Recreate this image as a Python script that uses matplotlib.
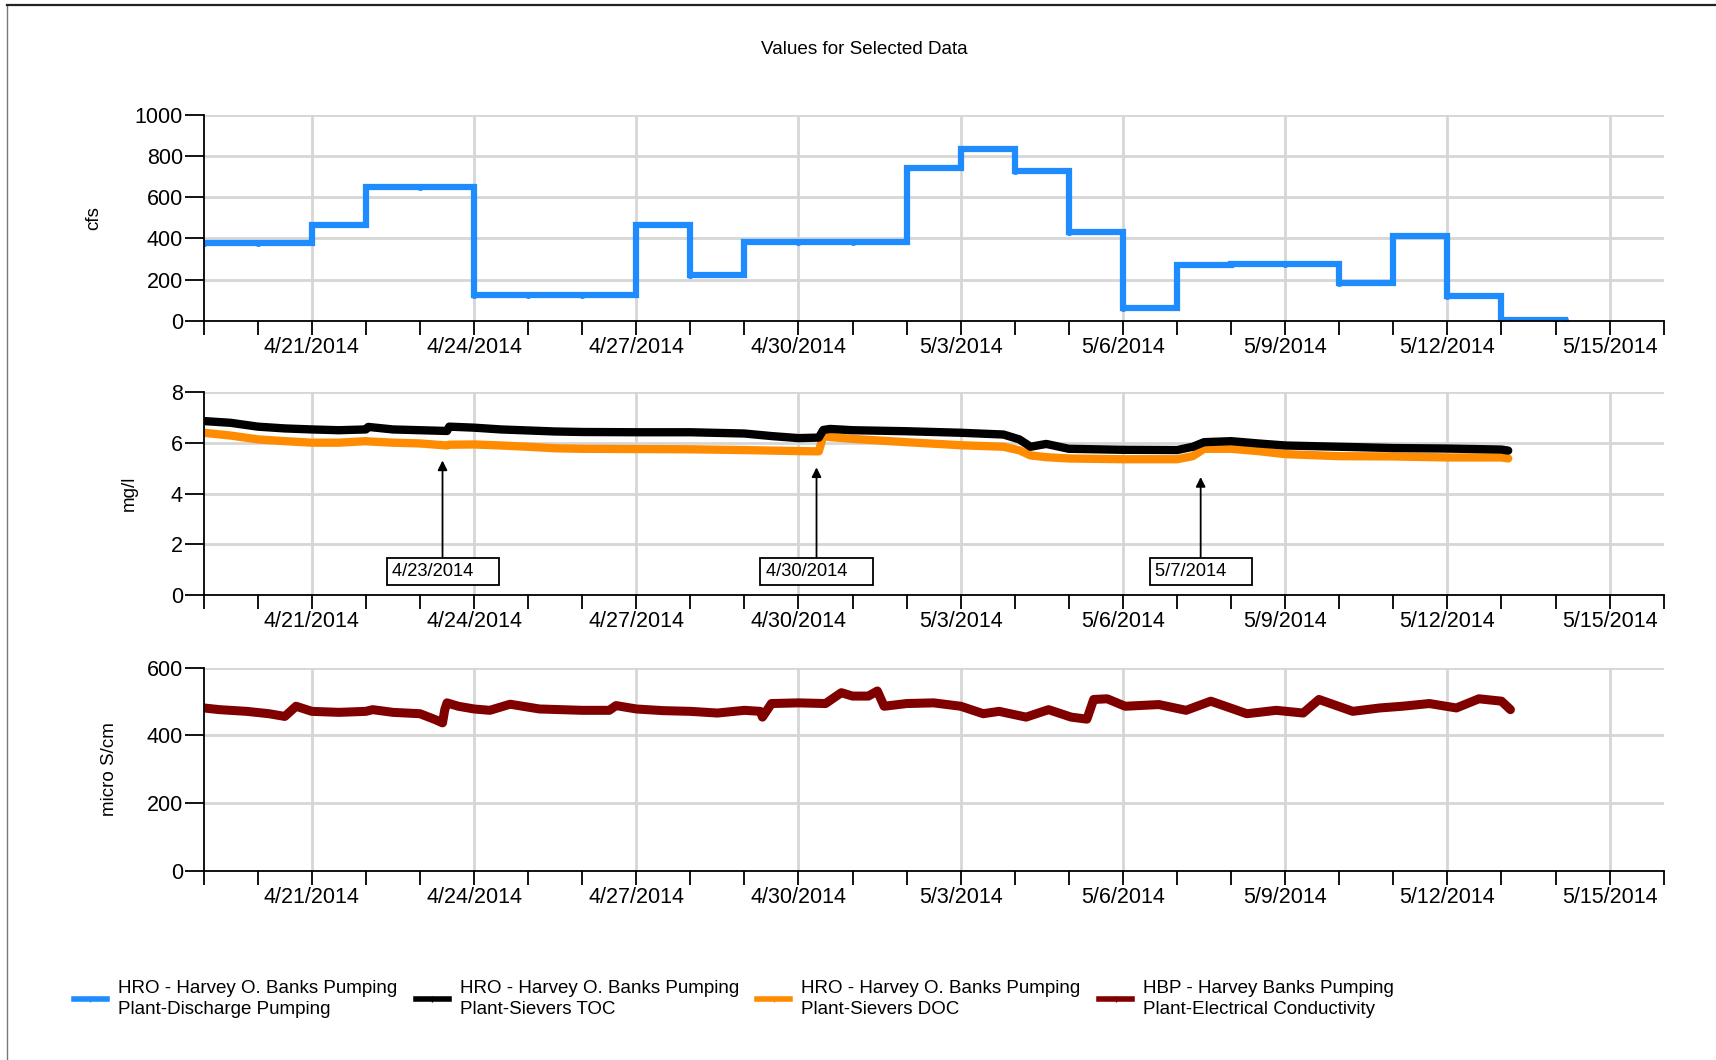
import matplotlib
matplotlib.use('Agg')
import matplotlib.pyplot as plt
import matplotlib.dates as mdates
from matplotlib.lines import Line2D
from matplotlib.ticker import FixedLocator, FuncFormatter
from matplotlib import font_manager
import pandas as pd

# pick a condensed face if there is one
names = set(f.name for f in font_manager.fontManager.ttflist)
NARROW = 'Liberation Sans Narrow' in names
plt.rcParams['font.family'] = ['Liberation Sans Narrow', 'Liberation Sans', 'DejaVu Sans']

title = 'Values for Selected Data'

# daily discharge pumping (cfs), drawn as a step line
flow_dates = ['2014-04-19 00:00', '2014-04-20 00:00', '2014-04-21 00:00', '2014-04-22 00:00',
              '2014-04-23 00:00', '2014-04-24 00:00', '2014-04-25 00:00', '2014-04-26 00:00',
              '2014-04-27 00:00', '2014-04-28 00:00', '2014-04-29 00:00', '2014-04-30 00:00',
              '2014-05-01 00:00', '2014-05-02 00:00', '2014-05-03 00:00', '2014-05-04 00:00',
              '2014-05-05 00:00', '2014-05-06 00:00', '2014-05-07 00:00', '2014-05-08 00:00',
              '2014-05-09 00:00', '2014-05-10 00:00', '2014-05-11 00:00', '2014-05-12 00:00',
              '2014-05-13 00:00', '2014-05-14 00:00', '2014-05-14 04:00']
flow_cfs = [375, 375, 465, 650, 650, 125, 125, 125, 465, 220,
            380, 380, 380, 740, 835, 725, 430, 60, 272, 275,
            275, 183, 412, 120, 3, 3, 3]

# Sievers TOC / DOC (mg/l)
wq_times = ['2014-04-19 00:00', '2014-04-19 12:00', '2014-04-20 00:00', '2014-04-20 12:00',
            '2014-04-21 00:00', '2014-04-21 12:00', '2014-04-22 00:00', '2014-04-22 01:00',
            '2014-04-22 12:00', '2014-04-23 00:00', '2014-04-23 12:00', '2014-04-23 13:00',
            '2014-04-24 00:00', '2014-04-24 12:00', '2014-04-25 00:00', '2014-04-25 12:00',
            '2014-04-26 00:00', '2014-04-27 00:00', '2014-04-28 00:00', '2014-04-29 00:00',
            '2014-04-29 12:00', '2014-04-30 00:00', '2014-04-30 09:00', '2014-04-30 11:00',
            '2014-04-30 14:00', '2014-05-01 00:00', '2014-05-02 00:00', '2014-05-03 00:00',
            '2014-05-03 19:00', '2014-05-04 02:00', '2014-05-04 07:00', '2014-05-04 12:00',
            '2014-05-04 14:00', '2014-05-05 00:00', '2014-05-06 00:00', '2014-05-07 00:00',
            '2014-05-07 07:00', '2014-05-07 12:00', '2014-05-08 00:00', '2014-05-08 12:00',
            '2014-05-09 00:00', '2014-05-10 00:00', '2014-05-11 00:00', '2014-05-12 00:00',
            '2014-05-13 00:00', '2014-05-13 03:00']
toc = [6.85, 6.78, 6.63, 6.56, 6.52, 6.49, 6.52, 6.62, 6.52, 6.49,
       6.46, 6.63, 6.59, 6.52, 6.48, 6.44, 6.42, 6.41, 6.41, 6.36,
       6.26, 6.18, 6.20, 6.50, 6.54, 6.49, 6.45, 6.39, 6.32, 6.13,
       5.84, 5.92, 5.95, 5.76, 5.72, 5.71, 5.84, 6.02, 6.06, 5.97,
       5.89, 5.84, 5.79, 5.77, 5.73, 5.69]
doc = [6.39, 6.28, 6.13, 6.06, 6.00, 6.00, 6.06, 6.05, 6.00, 5.97,
       5.89, 5.92, 5.93, 5.89, 5.84, 5.78, 5.76, 5.75, 5.74, 5.71,
       5.69, 5.67, 5.66, 6.26, 6.22, 6.15, 6.02, 5.90, 5.84, 5.70,
       5.50, 5.45, 5.43, 5.38, 5.35, 5.35, 5.47, 5.76, 5.76, 5.67,
       5.55, 5.47, 5.46, 5.42, 5.42, 5.38]

# electrical conductivity (micro S/cm)
ec_times = ['2014-04-19 00:00', '2014-04-19 07:00', '2014-04-19 19:00', '2014-04-20 05:00',
            '2014-04-20 12:00', '2014-04-20 17:00', '2014-04-21 00:00', '2014-04-21 12:00',
            '2014-04-22 00:00', '2014-04-22 03:00', '2014-04-22 12:00', '2014-04-23 00:00',
            '2014-04-23 07:00', '2014-04-23 10:00', '2014-04-23 11:00', '2014-04-23 12:00',
            '2014-04-23 17:00', '2014-04-24 00:00', '2014-04-24 07:00', '2014-04-24 16:00',
            '2014-04-25 05:00', '2014-04-26 00:00', '2014-04-26 12:00', '2014-04-26 15:00',
            '2014-04-27 00:00', '2014-04-27 12:00', '2014-04-28 00:00', '2014-04-28 12:00',
            '2014-04-29 00:00', '2014-04-29 07:00', '2014-04-29 08:00', '2014-04-29 12:00',
            '2014-04-30 00:00', '2014-04-30 12:00', '2014-04-30 19:00', '2014-05-01 00:00',
            '2014-05-01 07:00', '2014-05-01 11:00', '2014-05-01 14:00', '2014-05-02 00:00',
            '2014-05-02 12:00', '2014-05-03 00:00', '2014-05-03 10:00', '2014-05-03 17:00',
            '2014-05-04 05:00', '2014-05-04 15:00', '2014-05-05 01:00', '2014-05-05 08:00',
            '2014-05-05 11:00', '2014-05-05 17:00', '2014-05-06 01:00', '2014-05-06 16:00',
            '2014-05-07 04:00', '2014-05-07 15:00', '2014-05-08 07:00', '2014-05-08 20:00',
            '2014-05-09 08:00', '2014-05-09 15:00', '2014-05-10 06:00', '2014-05-10 18:00',
            '2014-05-11 04:00', '2014-05-11 16:00', '2014-05-12 04:00', '2014-05-12 14:00',
            '2014-05-13 00:00', '2014-05-13 04:00']
ec = [481, 476, 471, 464, 456, 486, 471, 468, 471, 476, 468, 464,
      446, 437, 476, 496, 486, 478, 474, 492, 478, 474, 474, 488,
      478, 473, 471, 466, 474, 471, 454, 494, 496, 494, 526, 516,
      516, 531, 486, 494, 496, 486, 464, 471, 454, 476, 454, 448,
      506, 508, 486, 491, 474, 501, 464, 474, 466, 506, 471, 481,
      486, 494, 481, 508, 501, 476]

# call-outs on the mg/l panel
annot_dates = ['2014-04-23 10:00', '2014-04-30 08:00', '2014-05-07 10:30']
annot_values = [5.3, 5.03, 4.65]
annot_labels = ['4/23/2014', '4/30/2014', '5/7/2014']

legend_labels = ['HRO - Harvey O. Banks Pumping\nPlant-Discharge Pumping',
                 'HRO - Harvey O. Banks Pumping\nPlant-Sievers TOC',
                 'HRO - Harvey O. Banks Pumping\nPlant-Sievers DOC',
                 'HBP - Harvey Banks Pumping\nPlant-Electrical Conductivity']

c_flow = '#1e8cff'
c_toc = '#000000'
c_doc = '#ff8c00'
c_ec = '#800000'

x_start = pd.Timestamp('2014-04-19')
x_end = pd.Timestamp('2014-05-16')
major_ticks = pd.date_range('2014-04-21', '2014-05-15', freq='3D')

TICK_FS = 18.5 if NARROW else 15.5
ANN_FS = 15.5 if NARROW else 13.2
LEG_FS = 16 if NARROW else 13.5
TITLE_FS = 16 if NARROW else 13.6
LAB_FS = 13.5
GRID = '#d6d6d6'


def date_fmt(v, pos):
    d = mdates.num2date(v)
    return '%d/%d/%d' % (d.month, d.day, d.year)


def style_axis(ax, ylim, yticks, ylabel, label_x):
    ax.set_xlim(x_start, x_end)
    ax.set_ylim(*ylim)
    ax.set_yticks(yticks)
    ax.xaxis.set_major_locator(FixedLocator(mdates.date2num(major_ticks)))
    ax.xaxis.set_minor_locator(mdates.DayLocator())
    ax.xaxis.set_major_formatter(FuncFormatter(date_fmt))
    ax.grid(axis='x', which='major', color=GRID, lw=2)
    ax.grid(axis='y', color=GRID, lw=2)
    ax.set_axisbelow(True)
    for s in ['top', 'right']:
        ax.spines[s].set_visible(False)
    for s in ['left', 'bottom']:
        ax.spines[s].set_linewidth(1.3)
    ax.tick_params(axis='x', which='both', length=10, width=1.3, direction='out', pad=1.5)
    ax.tick_params(axis='y', length=14, width=1.3, pad=1)
    ax.tick_params(labelsize=TICK_FS)
    ax.set_ylabel(ylabel, family=['Liberation Sans', 'DejaVu Sans'], fontsize=LAB_FS, va='center')
    ax.yaxis.set_label_coords(label_x, 0.5)


fig = plt.figure(figsize=(17.16, 10.6), dpi=100)
left, width = 0.1187, 0.8508
ax1 = fig.add_axes([left, 0.6975, width, 0.1941])
ax2 = fig.add_axes([left, 0.4383, width, 0.1921])
ax3 = fig.add_axes([left, 0.1782, width, 0.1920])

fig.text(0.5035, 0.9535, title, ha='center', va='center', fontsize=TITLE_FS)

# top: discharge
ax1.plot(pd.to_datetime(flow_dates), flow_cfs, drawstyle='steps-post', color=c_flow,
         lw=4.5, marker='o', ms=4, solid_joinstyle='miter')
style_axis(ax1, (0, 1000), range(0, 1001, 200), 'cfs', -0.075)

# middle: TOC / DOC
wq_t = pd.to_datetime(wq_times)
ax2.plot(wq_t, doc, color=c_doc, lw=6, solid_capstyle='round')
ax2.plot(wq_t, toc, color=c_toc, lw=6, solid_capstyle='round')
style_axis(ax2, (0, 8), range(0, 9, 2), 'mg/l', -0.051)

for d, v, lab in zip(pd.to_datetime(annot_dates), annot_values, annot_labels):
    ax2.annotate(lab + '    ', xy=(d, v), xytext=(d, 0.95), textcoords='data',
                 ha='center', va='center', fontsize=ANN_FS,
                 bbox=dict(boxstyle='square,pad=0.28', fc='white', ec='black', lw=1.3),
                 arrowprops=dict(arrowstyle='-|>', color='black', lw=1.3,
                                 shrinkA=0, shrinkB=0, mutation_scale=14,
                                 relpos=(0.5, 1.0)))

# bottom: EC
ax3.plot(pd.to_datetime(ec_times), ec, color=c_ec, lw=6.5, solid_capstyle='round')
style_axis(ax3, (0, 600), range(0, 601, 200), 'micro S/cm', -0.0648)

handles = [Line2D([0], [0], color=c, lw=4, marker='|', ms=5, mew=1)
           for c in [c_flow, c_toc, c_doc, c_ec]]
em = LEG_FS * 100 / 72.0
leg = fig.legend(handles, legend_labels, ncol=4, loc='center left',
                 bbox_to_anchor=(0.0431, 0.0575), frameon=False, fontsize=LEG_FS,
                 handlelength=33 / em, handletextpad=11 / em, columnspacing=18.5 / em,
                 borderpad=0, borderaxespad=0)
for t in leg.get_texts():
    t.set_linespacing(1.35)

# outer frame of the chart control
fig.add_artist(Line2D([0.0041, 0.0041], [0, 0.9953], color='#777777', lw=1))
fig.add_artist(Line2D([0.0041, 1], [0.9953, 0.9953], color='#222222', lw=1.6))

fig.savefig('out.png', dpi=100)
